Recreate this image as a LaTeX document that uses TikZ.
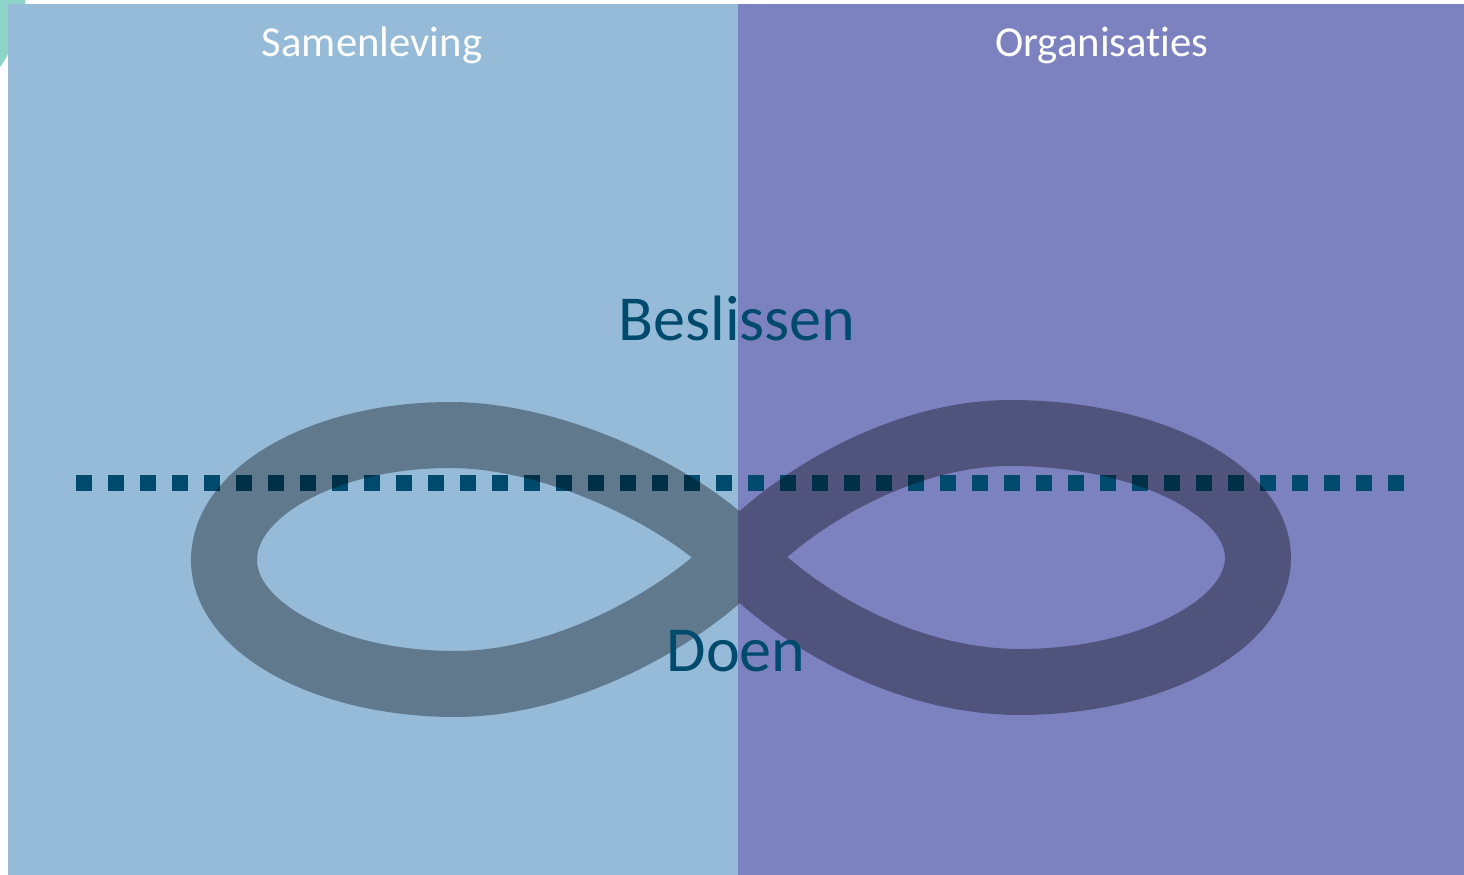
\documentclass[tikz,border=0pt]{standalone}
\usepackage{fontspec}
\setmainfont{Carlito}[RawFeature={-liga;-dlig;-clig}]
\definecolor{lblue}{RGB}{149,187,216}
\definecolor{lpurple}{RGB}{124,130,192}
\definecolor{dteal}{RGB}{0,74,110}
\definecolor{mint}{RGB}{142,211,199}
\tikzset{
  header/.style={text=white, font=\fontsize{24.3}{29}\selectfont, anchor=base, inner sep=0pt},
  bigtext/.style={text=dteal, font=\fontsize{36.5}{43}\selectfont, anchor=base, inner sep=0pt},
  loopband/.style={draw=black, draw opacity=0.35, line width=1.32cm, line join=round},
  dotline/.style={draw=dteal, line width=0.32cm, dash pattern=on 0.32cm off 0.32cm, line cap=butt}
}
\begin{document}
\begin{tikzpicture}[x=0.02cm, y=-0.02cm]
\useasboundingbox (0,0) rectangle (1464,875);
\fill[white] (0,0) rectangle (1464,875);
\begin{scope}
\clip (0,0) rectangle (1464,875);
\fill[mint] (-127,-20) circle[radius=154];
\end{scope}
\fill[lblue] (8,4) rectangle (738,875);
\fill[lpurple] (738,4) rectangle (1464,875);
% dotted line
\coordinate (dl) at (76,483);
\coordinate (dr) at (1404,483);
\draw[dotline] (dl) -- (dr);
% infinity loop
\coordinate (C) at (740,557);
\draw[loopband] (C)
  .. controls (690,502) and (560,435) .. (450,435)
  .. controls (326,435) and (224,491) .. (224,560)
  .. controls (224,629) and (330,684) .. (455,684)
  .. controls (570,684) and (690,612) .. (C)
  .. controls (790,502) and (900,433) .. (1010,433)
  .. controls (1146,433) and (1258,489) .. (1258,558)
  .. controls (1258,627) and (1146,682) .. (1020,682)
  .. controls (900,682) and (790,612) .. cycle;
% texts
\node[header] (sam) at (372,57) {Samenleving};
\node[header] (org) at (1102,57) {Organisaties};
\node[bigtext] (bes) at (737,340) {Beslissen};
\node[bigtext] (doe) at (736,671) {Doen};
\end{tikzpicture}
\end{document}
